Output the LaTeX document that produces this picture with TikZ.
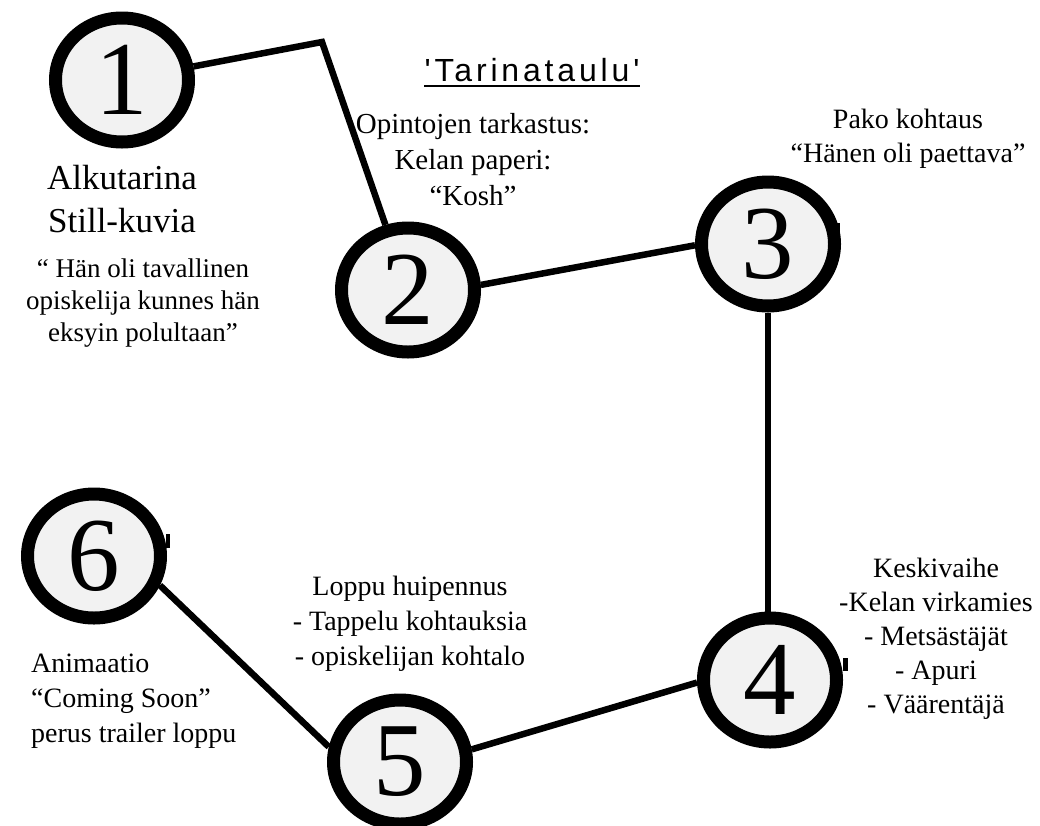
\documentclass[tikz,border=0pt]{standalone}
\usepackage{fontspec}
\setmainfont{Liberation Serif}
\newfontfamily\titlefont[LetterSpace=12,Ligatures=TeXOff]{Liberation Sans}
\usetikzlibrary{shapes.geometric}
\tikzset{
  stage/.style={ellipse, draw=black, line width=13pt, fill=black!5,
    minimum width=133pt, minimum height=124pt, inner sep=0pt,
    font=\fontsize{105}{105}\selectfont},
  link/.style={line width=6.5pt},
  lbl/.style={align=center, inner sep=0pt},
}
\begin{document}
\begin{tikzpicture}[x=1pt,y=-1pt]
\useasboundingbox (0,0) rectangle (1040,825);

% stages
\node[stage] (n1) at (122,80) {1};
\node[stage] (n2) at (408,290) {2};
\node[stage] (n3) at (768,244) {3};
\node[stage] (n4) at (770,680) {4};
\node[stage] (n5) at (400,762) {5};
\node[stage] (n6) at (94,556) {6};

% small marks on the rims
\fill (835,223) rectangle (840,236);
\fill (843,658) rectangle (848,671);
\fill (166,534) rectangle (170,548);

% connectors
\coordinate (bend) at (322,42);
\draw[link] (n1) -- (bend) -- (n2);
\draw[link] (n2.4) -- (n3.181);
\draw[link] (n3.south) -- (n3.south |- n4.north);
\draw[link] (n4.182) -- (n5.10);
\draw[link] (n5.168) -- (n6.-24);

% title
\node[anchor=base, inner sep=0pt, font=\titlefont\fontsize{32}{36}\selectfont] (title) at (532,81) {'Tarinataulu'};
\draw[line width=2pt] ([yshift=-5pt]title.base west) -- ([yshift=-5pt]title.base east);

% labels
\node[lbl, anchor=north, font=\fontsize{35}{43}\selectfont] (t1) at (122,165) {Alkutarina\\Still-kuvia};
\node[lbl, anchor=north, font=\fontsize{27}{32}\selectfont] (t1b) at (143,259) {“ Hän oli tavallinen\\opiskelija kunnes hän\\eksyin polultaan”};
\node[lbl, anchor=north, font=\fontsize{29}{36}\selectfont] (t2) at (473,113) {Opintojen tarkastus:\\Kelan paperi:\\“Kosh”};
\node[lbl, anchor=north, font=\fontsize{28}{34}\selectfont] (t3) at (908,109) {Pako kohtaus\\“Hänen oli paettava”};
\node[lbl, anchor=north, font=\fontsize{28}{34}\selectfont] (t4) at (936,558) {Keskivaihe\\-Kelan virkamies\\- Metsästäjät\\- Apuri\\- Väärentäjä};
\node[lbl, anchor=north, font=\fontsize{28}{35}\selectfont] (t5) at (410,576) {Loppu huipennus\\- Tappelu kohtauksia\\- opiskelijan kohtalo};
\node[lbl, align=left, anchor=north west, font=\fontsize{28}{35}\selectfont] (t6) at (31,654) {Animaatio\\“Coming Soon”\\perus trailer loppu};
\end{tikzpicture}
\end{document}
